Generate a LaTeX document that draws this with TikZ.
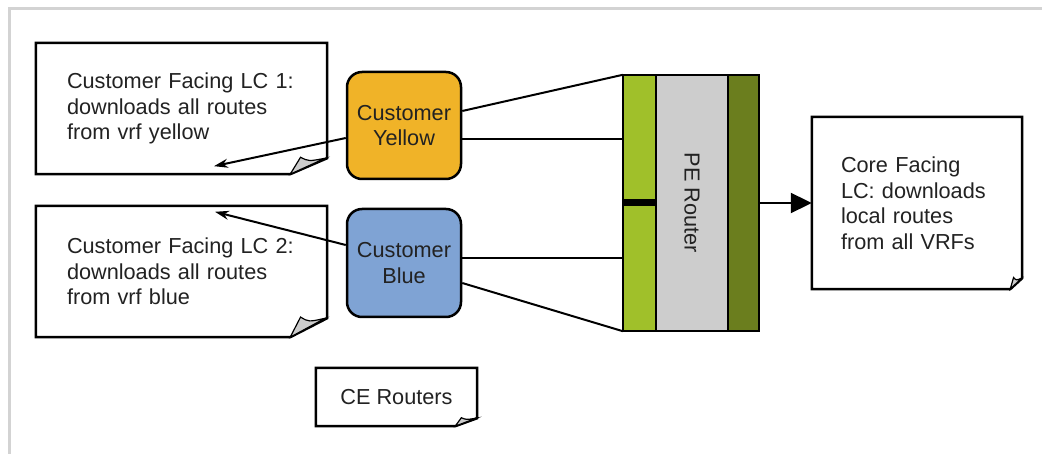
\documentclass[tikz,border=0pt]{standalone}
\usepackage{fontspec}
\setmainfont{Liberation Sans}
\usetikzlibrary{arrows.meta,calc}
\definecolor{cyellow}{HTML}{F0B328}
\definecolor{cblue}{HTML}{7FA3D4}
\definecolor{lgreen}{HTML}{A0C02A}
\definecolor{dgreen}{HTML}{6B7E1E}
\definecolor{pegray}{HTML}{CDCDCD}
\definecolor{framegray}{HTML}{D3D3D3}
\definecolor{txt}{HTML}{222222}
\tikzset{
  box/.style={draw=none, inner sep=0pt, font=\fontsize{21.7}{25.5}\selectfont, text=txt},
  docline/.style={draw=black, line width=2.5pt, line join=miter, fill=white},
  flap/.style={draw=black, line width=1.2pt, fill=black!20},
  ce/.style={box, draw=black, line width=2.5pt, rounded corners=15pt, minimum width=114pt, align=center},
  conn/.style={draw=black, line width=2pt},
  strip/.style={draw=black, line width=2.5pt, inner sep=0pt},
}
\newcommand{\dogear}[3]{%
  \draw[docline] (#1.north west) -- (#1.north east) -- ([yshift=#3pt]#1.south east)
     -- ([xshift=-#2pt]#1.south east) -- (#1.south west) -- cycle;
  \filldraw[flap] ([xshift=-#2pt]#1.south east)
     -- ([xshift=-0.72*#2pt, yshift=1.06*#3pt]#1.south east)
     .. controls ([xshift=-0.5*#2pt, yshift=0.8*#3pt]#1.south east) .. ([xshift=-0.05*#2pt, yshift=#3pt]#1.south east)
     -- cycle;}
\begin{document}
\begin{tikzpicture}[x=1pt,y=-1pt]
\useasboundingbox (0,0) rectangle (1042,454);
\draw[framegray, line width=3pt] (9,454) -- (9,9) -- (1042,9);

% document boxes
\node[box, minimum height=131pt, text width=229pt, inner xsep=31pt, align=left] (lc1) at (181.5,108.5) {};
\dogear{lc1}{37}{16}
\node[box, text width=229pt, align=left] (lc1t) at (lc1) {Customer Facing LC 1:\\downloads all routes\\from vrf yellow};

\node[box, minimum height=131pt, text width=229pt, inner xsep=31pt, align=left] (lc2) at (181.5,271.5) {};
\dogear{lc2}{37}{19}
\node[box, text width=229pt, align=left] (lc2t) at (lc2) {Customer Facing LC 2:\\downloads all routes\\from vrf blue};

\node[box, minimum height=172pt, text width=152pt, inner xsep=29pt, align=left] (core) at (917,203) {};
\dogear{core}{12}{11}
\node[box, text width=152pt, align=left] (coret) at (core) {Core Facing\\LC: downloads\\local routes\\from all VRFs};

\node[box, minimum width=161pt, minimum height=58pt] (cebox) at (396.5,397) {};
\dogear{cebox}{22}{8}
\node[box] (cet) at (cebox) {CE Routers};

% CE routers
\node[ce, fill=cyellow, minimum height=107pt] (yellow) at (404,125.5) {Customer\\Yellow};
\node[ce, fill=cblue, minimum height=108pt] (blue) at (404,263) {Customer\\Blue};

% PE router
\node[box, minimum width=136pt, minimum height=256pt] (pe) at (691,203) {};
\node[strip, fill=lgreen, minimum width=33pt, minimum height=256pt] (pel) at (639.5,203) {};
\node[strip, fill=pegray, minimum width=72pt, minimum height=256pt] (pem) at (692,203) {};
\node[strip, fill=dgreen, minimum width=31pt, minimum height=256pt] (per) at (743.5,203) {};
\node[fill=black, inner sep=0pt, minimum width=33pt, minimum height=7pt] (sep) at (639.5,203) {};
\node[box, rotate=-90] (pet) at (pem) {PE Router};

% connectors
\coordinate (ya) at ([yshift=14.5pt]yellow.east);
\coordinate (yb) at ([yshift=-13.5pt]yellow.east);
\coordinate (ba) at ([yshift=5pt]blue.east);
\coordinate (bb) at ([yshift=-20pt]blue.east);
\draw[conn] (ya) -- (pe.north west);
\draw[conn] (yb) -- (yb -| pe.west);
\draw[conn] (ba) -- (ba -| pe.west);
\draw[conn] (bb) -- (pe.south west);

\coordinate (yl) at ([yshift=-12.5pt]yellow.west);
\coordinate (lc1tip) at ([xshift=32.5pt, yshift=8pt]lc1.south);
\draw[conn, -{Stealth[length=14pt,width=9pt]}] (yl) -- (lc1tip);
\coordinate (bl) at ([yshift=18pt]blue.west);
\coordinate (lc2tip) at ([xshift=33.5pt, yshift=-6pt]lc2.north);
\draw[conn, -{Stealth[length=14pt,width=9pt]}] (bl) -- (lc2tip);

\draw[conn, -{Triangle[length=21pt,width=20pt]}] (per.east) -- (core.west);
\end{tikzpicture}
\end{document}
